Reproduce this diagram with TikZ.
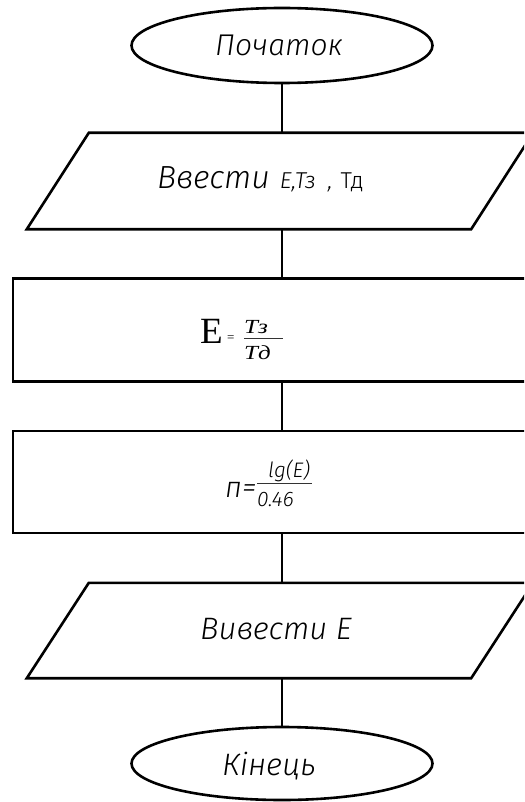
\documentclass[tikz,border=0pt]{standalone}
\usepackage{fontspec}
\setmainfont{Liberation Serif}
\newfontfamily\gost{Fira Sans Light Italic}
\newfontfamily\gostup{Fira Sans Light}
\usetikzlibrary{shapes.geometric}

\tikzset{
  flow/.style={line width=2.6pt, black},
  terminal/.style={ellipse, draw, line width=2.6pt, minimum width=301pt, minimum height=75pt, inner sep=0pt},
  procbox/.style={rectangle, draw, line width=2.6pt, minimum width=536pt, minimum height=103pt, inner sep=0pt},
  iobox/.style={rectangle, minimum width=444pt, minimum height=96pt, inner sep=0pt},
  txt/.style={inner sep=0pt, anchor=base west},
  fracbar/.style={line width=0.8pt, black!80}
}

\begin{document}
\begin{tikzpicture}[x=1pt, y=-1pt]
  \useasboundingbox (0,0) rectangle (524,802);
  \clip (0,0) rectangle (524,802);
  \fill[white] (0,0) rectangle (524,802);

  % start
  \node[terminal] (start) at (282,45.5) {};
  \node[txt] (starttext) at (215,56) {\gost\fontsize{30}{30}\selectfont Початок};

  % input parallelogram (anchor box + slanted outline)
  \node[iobox] (inp) at (280,181) {};
  \draw[flow, line join=miter]
    ([xshift=-31pt]inp.south west) -- ([xshift=31pt]inp.north west) --
    ([xshift=31pt]inp.north east) -- ([xshift=-31pt]inp.south east) -- cycle;
  \node[txt] (inptext) at (157,189)
    {\gost\fontsize{32}{32}\selectfont Ввести\hspace{10pt}\fontsize{23}{23}\selectfont E,Tз\hspace{12pt},\hspace{8pt}{\gostup Тд}};

  % first process: E = Tз / Tд
  \node[procbox] (calc1) at (281,330) {};
  \node[txt] (f1e) at (200,343) {\fontsize{37}{37}\selectfont E};
  \node[txt] (f1eq) at (227,341) {\fontsize{13}{13}\selectfont =};
  \node[txt] (f1num) at (244,333) {\scalebox{1.25}[1]{\fontsize{20}{20}\selectfont\itshape Tз}};
  \node[txt] (f1den) at (244,359) {\scalebox{1.25}[1]{\fontsize{20}{20}\selectfont\itshape Tд}};
  \draw[fracbar] (f1num.base west |- 0,338) -- (283,338);

  % second process: n = lg(E) / 0.46
  \node[procbox, minimum height=102pt] (calc2) at (281,482) {};
  \node[txt] (f2n) at (225,497) {\gost\fontsize{29}{29}\selectfont п=};
  \node[txt] (f2num) at (268,477) {\gost\fontsize{21}{21}\selectfont lg(E)};
  \node[txt] (f2den) at (257,506) {\gost\fontsize{21}{21}\selectfont 0.46};
  \draw[fracbar] (f2den.base west |- 0,483.5) -- (312,483.5);

  % output parallelogram
  \node[iobox, minimum height=95pt] (outp) at (280,630.5) {};
  \draw[flow, line join=miter]
    ([xshift=-31pt]outp.south west) -- ([xshift=31pt]outp.north west) --
    ([xshift=31pt]outp.north east) -- ([xshift=-31pt]outp.south east) -- cycle;
  \node[txt] (outtext) at (200,639) {\gost\fontsize{31}{31}\selectfont Вивести E};

  % end
  \node[terminal, minimum height=73pt] (stop) at (282,763.5) {};
  \node[txt] (stoptext) at (222,775) {\gost\fontsize{31}{31}\selectfont Кінець};

  % connectors
  \draw[flow] (start.south) -- (start.south |- inp.north);
  \draw[flow] (start.south |- inp.south) -- (start.south |- calc1.north);
  \draw[flow] (start.south |- calc1.south) -- (start.south |- calc2.north);
  \draw[flow] (start.south |- calc2.south) -- (start.south |- outp.north);
  \draw[flow] (start.south |- outp.south) -- (stop.north);
\end{tikzpicture}
\end{document}
